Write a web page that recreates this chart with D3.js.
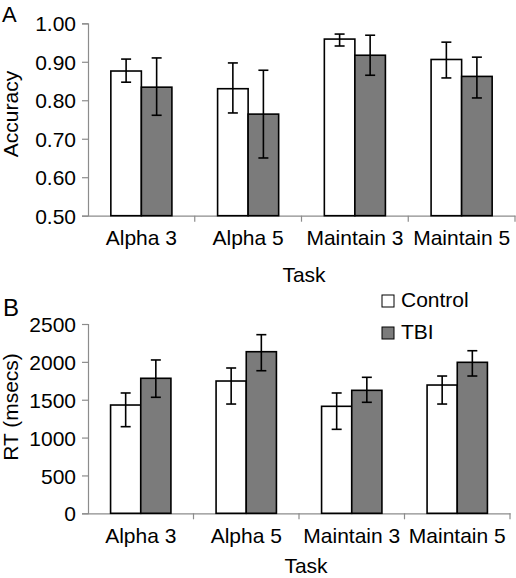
<!DOCTYPE html>
<html><head><meta charset="utf-8">
<script src="https://cdn.jsdelivr.net/npm/d3@7"></script>
<style>body{margin:0;background:#fff}svg{display:block;font-family:"Liberation Sans",Arial,sans-serif}</style>
</head><body><svg id="c" width="516" height="578"></svg>
<script>
const categories = ["Alpha 3","Alpha 5","Maintain 3","Maintain 5"];
const seriesNames = ["Control","TBI"];
const accControl = [0.876, 0.830, 0.959, 0.906];
const accControlLo = [0.847, 0.767, 0.941, 0.858];
const accControlHi = [0.907, 0.897, 0.972, 0.951];
const accTBI = [0.834, 0.764, 0.917, 0.862];
const accTBILo = [0.761, 0.650, 0.865, 0.806];
const accTBIHi = [0.910, 0.878, 0.969, 0.912];
const rtControl = [1430, 1747, 1413, 1694];
const rtControlLo = [1144, 1443, 1109, 1443];
const rtControlHi = [1589, 1919, 1589, 1813];
const rtTBI = [1783, 2134, 1624, 1994];
const rtTBILo = [1532, 1883, 1466, 1813];
const rtTBIHi = [2025, 2359, 1796, 2147];
const accTicks = [0.5, 0.6, 0.7, 0.8, 0.9, 1.0];
const rtTicks = [0, 500, 1000, 1500, 2000, 2500];

const colors = {Control: "#ffffff", TBI: "#7b7b7b"};
const svg = d3.select("#c");
const FONT = 21;

function panel(o) {
  const x = d3.scaleBand().domain(categories).range([o.x0, o.x1]).padding(0);
  const step = x.bandwidth();
  const bw = step * 0.286;
  const xs = d3.scaleBand().domain(seriesNames).range([step/2 - bw, step/2 + bw]).padding(0);
  const y = d3.scaleLinear().domain(o.domain).range([o.y0, o.y1]);
  const g = svg.append("g");

  const ya = g.append("g").attr("transform", `translate(${o.x0},0)`)
    .call(d3.axisLeft(y).tickValues(o.ticks).tickFormat(o.fmt).tickSize(6).tickPadding(6));
  ya.select(".domain").attr("stroke", "#8c8c8c").attr("stroke-width", 1.2);
  ya.selectAll(".tick line").attr("stroke", "#8c8c8c").attr("stroke-width", 1.2);
  ya.selectAll("text").attr("font-size", FONT).attr("fill", "#000")
    .attr("font-family", "Liberation Sans, Arial, sans-serif").attr("dy", "0.36em");

  const xa = g.append("g").attr("transform", `translate(0,${o.y0})`)
    .call(d3.axisBottom(x).tickSize(0).tickPadding(o.xPad));
  xa.select(".domain").attr("stroke", "#8c8c8c").attr("stroke-width", 1.2);
  xa.selectAll("text").attr("font-size", FONT).attr("fill", "#000")
    .attr("font-family", "Liberation Sans, Arial, sans-serif");
  const bounds = categories.map(c => x(c) + step);
  g.selectAll(".bt").data(bounds).enter().append("line")
    .attr("x1", d => d).attr("x2", d => d).attr("y1", o.y0).attr("y2", o.y0 + 6)
    .attr("stroke", "#8c8c8c").attr("stroke-width", 1.2);

  const rows = [];
  categories.forEach((c, i) => {
    rows.push({c, s: "Control", v: o.control[i], lo: o.controlLo[i], hi: o.controlHi[i]});
    rows.push({c, s: "TBI", v: o.tbi[i], lo: o.tbiLo[i], hi: o.tbiHi[i]});
  });
  g.selectAll(".bar").data(rows).enter().append("rect")
    .attr("x", d => x(d.c) + xs(d.s))
    .attr("width", xs.bandwidth())
    .attr("y", d => y(d.v))
    .attr("height", d => y(o.domain[0]) - y(d.v))
    .attr("fill", d => colors[d.s]).attr("stroke", "#000").attr("stroke-width", 1.6);
  const eb = g.selectAll(".eb").data(rows).enter().append("g")
    .attr("transform", d => `translate(${x(d.c) + xs(d.s) + xs.bandwidth()/2},0)`);
  eb.append("line").attr("y1", d => y(d.lo)).attr("y2", d => y(d.hi)).attr("stroke", "#000").attr("stroke-width", 1.6);
  eb.append("line").attr("x1", -5).attr("x2", 5).attr("y1", d => y(d.lo)).attr("y2", d => y(d.lo)).attr("stroke", "#000").attr("stroke-width", 1.6);
  eb.append("line").attr("x1", -5).attr("x2", 5).attr("y1", d => y(d.hi)).attr("y2", d => y(d.hi)).attr("stroke", "#000").attr("stroke-width", 1.6);

  g.append("text").attr("transform", `translate(${o.ytX},${o.ytY}) rotate(-90)`)
    .attr("text-anchor", "middle").attr("font-size", FONT).text(o.yTitle);
  g.append("text").attr("x", o.xtX).attr("y", o.xtY).attr("text-anchor", "middle")
    .attr("font-size", FONT).text("Task");
  g.append("text").attr("x", o.lx).attr("y", o.ly).attr("font-size", o.lsize).text(o.letter);
}

panel({x0: 88, x1: 515, y0: 215.7, y1: 23.3, domain: [0.5, 1.0], ticks: accTicks,
  fmt: d3.format(".2f"), xPad: 14,
  control: accControl, controlLo: accControlLo, controlHi: accControlHi,
  tbi: accTBI, tbiLo: accTBILo, tbiHi: accTBIHi,
  yTitle: "Accuracy", ytX: 18, ytY: 114, xtX: 304, xtY: 282,
  letter: "A", lx: 2, ly: 22, lsize: 22});

panel({x0: 88, x1: 510, y0: 513.3, y1: 324, domain: [0, 2500], ticks: rtTicks,
  fmt: d3.format("d"), xPad: 15,
  control: rtControl, controlLo: rtControlLo, controlHi: rtControlHi,
  tbi: rtTBI, tbiLo: rtTBILo, tbiHi: rtTBIHi,
  yTitle: "RT (msecs)", ytX: 18, ytY: 407, xtX: 306, xtY: 573,
  letter: "B", lx: 3, ly: 316, lsize: 24});

const leg = svg.append("g");
seriesNames.forEach((s, i) => {
  const yy = 295 + i * 32;
  leg.append("rect").attr("x", 382).attr("y", yy).attr("width", 12).attr("height", 12)
    .attr("fill", colors[s]).attr("stroke", "#000").attr("stroke-width", 1);
  leg.append("text").attr("x", 401).attr("y", yy + 12).attr("font-size", FONT).text(s);
});
</script></body></html>
